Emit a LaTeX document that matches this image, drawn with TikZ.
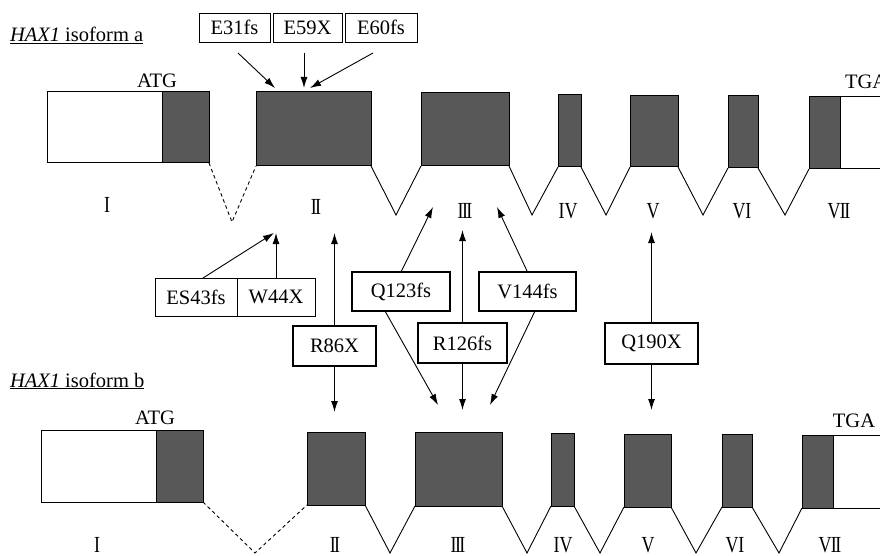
\documentclass[tikz,border=0pt]{standalone}
\usepackage{fontspec}
\setmainfont{Liberation Serif}
\usetikzlibrary{arrows.meta}
\definecolor{exfill}{RGB}{88,88,88}
\newcommand\rn[1]{{\fontsize{23}{24}\selectfont\scalebox{0.78}[1]{#1}}}
\newcommand\nI{I\kern-2pt I}
\begin{document}
\begin{tikzpicture}[x=1pt,y=-1pt,
  font=\fontsize{20.5}{23}\selectfont,
  exon/.style={draw, line width=1pt, fill=exfill, inner sep=0pt, outer sep=0pt, anchor=north west},
  utr/.style={draw, line width=1pt, fill=white, inner sep=0pt, outer sep=0pt, anchor=north west},
  thinbox/.style={draw, line width=0.8pt, inner sep=0pt, outer sep=0pt, anchor=north west},
  thickbox/.style={draw, line width=2.6pt, inner sep=0pt, outer sep=0pt, anchor=north west},
  splice/.style={line width=0.9pt},
  alt/.style={line width=0.9pt, dash pattern=on 3.5pt off 3pt},
  arr/.style={line width=0.9pt, -{Latex[length=11pt,width=7pt]}},
  lbl/.style={inner sep=0pt, outer sep=0pt},
]
\useasboundingbox[fill=white] (0,0) rectangle (880,556);

% ---------- isoform a ----------
\node[lbl, anchor=base west] (ha) at (10,42) {\underline{\textit{HAX1} isoform a}};
\node[utr,  minimum width=115pt, minimum height=71pt] (a1w) at (47,92) {};
\node[exon, minimum width=47pt,  minimum height=71pt] (a1d) at (162,92) {};
\node[exon, minimum width=115pt, minimum height=74pt] (a2) at (256,92) {};
\node[exon, minimum width=88pt,  minimum height=73pt] (a3) at (421,93) {};
\node[exon, minimum width=23pt,  minimum height=72pt] (a4) at (558,95) {};
\node[exon, minimum width=48pt,  minimum height=71pt] (a5) at (630,96) {};
\node[exon, minimum width=30pt,  minimum height=72pt] (a6) at (728,96) {};
\node[utr,  minimum width=60pt,  minimum height=72pt] (a7w) at (840,97) {};
\node[exon, minimum width=31pt,  minimum height=72pt] (a7d) at (809,97) {};
\node[lbl] (atga) at (157,81) {ATG};
\node[lbl, anchor=west] (tgaa) at (845,82) {TGA};

\coordinate (va1) at (232,222);
\coordinate (va2) at (396,215);
\coordinate (va3) at (532,215);
\coordinate (va4) at (606,215);
\coordinate (va5) at (703,215);
\coordinate (va6) at (785,215);
\draw[alt] (a1d.south east) -- (va1) -- (a2.south west);
\draw[splice] (a2.south east) -- (va2) -- (a3.south west);
\draw[splice] (a3.south east) -- (va3) -- (a4.south west);
\draw[splice] (a4.south east) -- (va4) -- (a5.south west);
\draw[splice] (a5.south east) -- (va5) -- (a6.south west);
\draw[splice] (a6.south east) -- (va6) -- (a7d.south west);

\node[lbl] (na1) at (107,205) {\rn{I}};
\node[lbl] (na2) at (316,207) {\rn{\nI}};
\node[lbl] (na3) at (465,211) {\rn{\nI\kern-2pt I}};
\node[lbl] (na4) at (568,211) {\rn{IV}};
\node[lbl] (na5) at (653,211) {\rn{V}};
\node[lbl] (na6) at (742,211) {\rn{VI}};
\node[lbl] (na7) at (839,211) {\rn{V\kern-1pt\nI}};

% ---------- isoform b ----------
\node[lbl, anchor=base west] (hb) at (10,387) {\underline{\textit{HAX1} isoform b}};
\node[utr,  minimum width=115pt, minimum height=72pt] (b1w) at (41,430) {};
\node[exon, minimum width=47pt,  minimum height=72pt] (b1d) at (156,430) {};
\node[exon, minimum width=58pt,  minimum height=73pt] (b2) at (307,432) {};
\node[exon, minimum width=87pt,  minimum height=74pt] (b3) at (415,432) {};
\node[exon, minimum width=23pt,  minimum height=73pt] (b4) at (551,433) {};
\node[exon, minimum width=47pt,  minimum height=73pt] (b5) at (624,434) {};
\node[exon, minimum width=30pt,  minimum height=73pt] (b6) at (722,434) {};
\node[utr,  minimum width=70pt,  minimum height=73pt] (b7w) at (833,435) {};
\node[exon, minimum width=31pt,  minimum height=73pt] (b7d) at (802,435) {};
\node[lbl] (atgb) at (155,418) {ATG};
\node[lbl] (tgab) at (854,421) {TGA};

\coordinate (vb1) at (255,553);
\coordinate (vb2) at (390,553);
\coordinate (vb3) at (527,553);
\coordinate (vb4) at (600,553);
\coordinate (vb5) at (696,553);
\coordinate (vb6) at (779,553);
\draw[alt] (b1d.south east) -- (vb1) -- (b2.south west);
\draw[splice] (b2.south east) -- (vb2) -- (b3.south west);
\draw[splice] (b3.south east) -- (vb3) -- (b4.south west);
\draw[splice] (b4.south east) -- (vb4) -- (b5.south west);
\draw[splice] (b5.south east) -- (vb5) -- (b6.south west);
\draw[splice] (b6.south east) -- (vb6) -- (b7d.south west);

\node[lbl] (nb1) at (97,545) {\rn{I}};
\node[lbl] (nb2) at (335,545) {\rn{\nI}};
\node[lbl] (nb3) at (458,545) {\rn{\nI\kern-2pt I}};
\node[lbl] (nb4) at (563,545) {\rn{IV}};
\node[lbl] (nb5) at (648,545) {\rn{V}};
\node[lbl] (nb6) at (735,545) {\rn{VI}};
\node[lbl] (nb7) at (830,545) {\rn{V\kern-1pt\nI}};

% ---------- mutations, top ----------
\node[thinbox, minimum width=71pt, minimum height=29pt] (e31) at (199,13) {E31fs};
\node[thinbox, minimum width=69pt, minimum height=29pt] (e59) at (273,13) {E59X};
\node[thinbox, minimum width=72pt, minimum height=29pt] (e60) at (345,13) {E60fs};
\coordinate (s31) at (238,53);  \coordinate (t31) at (275,88);
\coordinate (s59) at (304,53);  \coordinate (t59) at (304,88);
\coordinate (s60) at (373,53);  \coordinate (t60) at (310,88);
\draw[arr] (s31) -- (t31);
\draw[arr] (s59) -- (t59);
\draw[arr] (s60) -- (t60);

% ---------- mutations, middle ----------
\node[thinbox, minimum width=82pt, minimum height=38pt] (es43) at (155,278) {ES43fs};
\node[thinbox, minimum width=78pt, minimum height=38pt] (w44) at (237,278) {W44X};
\coordinate (ses43) at (203,278); \coordinate (tes43) at (274,233);
\coordinate (tw44) at (276,233);
\draw[arr] (ses43) -- (tes43);
\draw[arr] (w44.north) -- (tw44);

\node[thickbox, minimum width=83pt, minimum height=40pt] (r86) at (293,326) {R86X};
\node[thickbox, minimum width=98pt, minimum height=39pt] (q123) at (352,272) {Q123fs};
\node[thickbox, minimum width=89pt, minimum height=40pt] (r126) at (418,323) {R126fs};
\node[thickbox, minimum width=97pt, minimum height=39pt] (v144) at (479,272) {V144fs};
\node[thickbox, minimum width=93pt, minimum height=41pt] (q190) at (605,323) {Q190X};

\coordinate (tr86u) at (334.5,233); \coordinate (tr86d) at (334.5,412);
\draw[arr] (r86.north) -- (tr86u);
\draw[arr] (r86.south) -- (tr86d);

\coordinate (tq123u) at (433,207);
\coordinate (sq123d) at (385,311); \coordinate (tq123d) at (438,405);
\draw[arr] (q123.north) -- (tq123u);
\draw[arr] (sq123d) -- (tq123d);

\coordinate (tr126u) at (462.5,230); \coordinate (tr126d) at (462.5,410);
\draw[arr] (r126.north) -- (tr126u);
\draw[arr] (r126.south) -- (tr126d);

\coordinate (tv144u) at (497,207);
\coordinate (sv144d) at (535,311); \coordinate (tv144d) at (490,405);
\draw[arr] (v144.north) -- (tv144u);
\draw[arr] (sv144d) -- (tv144d);

\coordinate (tq190u) at (651.5,232); \coordinate (tq190d) at (651.5,410);
\draw[arr] (q190.north) -- (tq190u);
\draw[arr] (q190.south) -- (tq190d);
\end{tikzpicture}
\end{document}
